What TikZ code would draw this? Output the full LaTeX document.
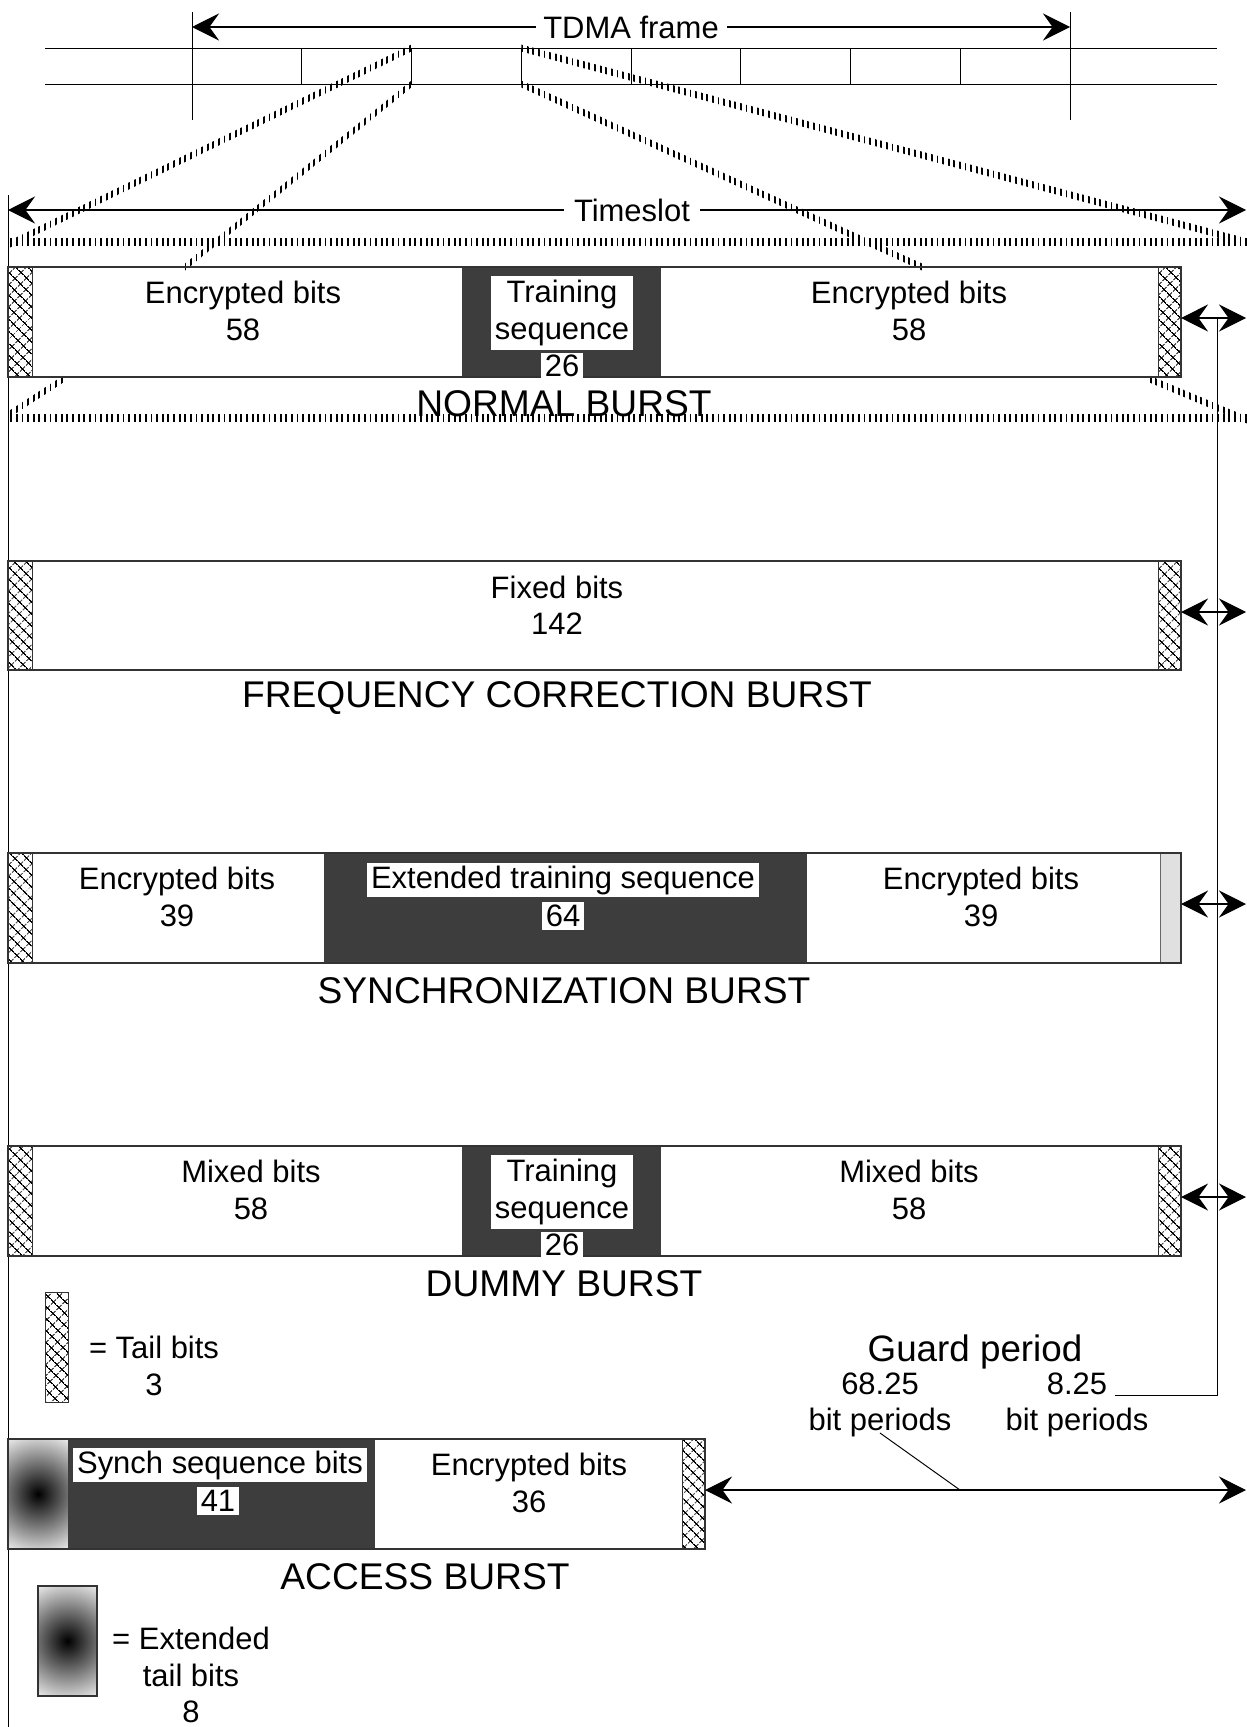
\documentclass[tikz,border=0pt]{standalone}
\usepackage{fontspec}
\setmainfont{Liberation Sans}
\usepackage{tikz}
\usetikzlibrary{calc}
\usetikzlibrary{arrows.meta}
\usetikzlibrary{positioning,patterns.meta}
\newcommand{\hatchband}[2]{\fill[HatchBand] ($(#1)+(0,-3.5)$) -- ($(#2)+(0,-3.5)$) -- ($(#2)+(0,3.5)$) -- ($(#1)+(0,3.5)$) -- cycle}
\colorlet{darkbits}{black!76}
\colorlet{boxline}{black!80}

\begin{document}
\begin{tikzpicture}[
x=0.018155cm, y=-0.018155cm,
Txt/.style={font=\fontsize{16}{18.8}\selectfont, inner sep=0pt, align=center},
Title/.style={font=\fontsize{19.2}{22}\selectfont, inner sep=0pt},
WhiteTxt/.style={Txt, fill=white, inner xsep=2pt, inner ysep=2.5pt},
BurstBox/.style={draw=boxline, line width=0.7pt},
TailBits/.style={draw=boxline, line width=0.5pt, pattern={Hatch[angle=45,distance=4pt,line width=0.55pt]}},
LightBits/.style={draw=black!60, line width=0.5pt, fill=black!12},
HatchBand/.style={pattern={Lines[angle=90,distance=2.9pt,line width=0.95pt]}},
Thin/.style={line width=0.5pt},
Dim/.style={line width=0.6pt, {Stealth[length=14pt,width=14pt,inset=5pt]}-{Stealth[length=14pt,width=14pt,inset=5pt]}}
]
\useasboundingbox (0,0) rectangle (1247,1727);

% the eight timeslots of the frame
\draw[Thin] (192,12) -- (192,120);
\draw[Thin] (1070,12) -- (1070,120);
\draw[Thin] (45,48) -- (1217,48);
\draw[Thin] (45,84) -- (1217,84);
\foreach \x in {301.75,411.5,521.25,631,740.75,850.5,960.25}
  \draw[Thin] (\x,48) -- (\x,84);
\coordinate (Fl) at (192,27);
\coordinate (Fr) at (1070,27);
\draw[Dim] (Fl) -- node[Txt, fill=white, inner xsep=4pt, inner ysep=2pt] (frame) {TDMA frame} (Fr);

% zoom from slot 3 down to the timeslot
\coordinate (S3tl) at (411.5,48);
\coordinate (S3bl) at (411.5,84);
\coordinate (S3tr) at (521.25,48);
\coordinate (S3br) at (521.25,84);
\hatchband{S3tl}{8,245};
\hatchband{S3bl}{185,267};
\hatchband{S3tr}{1247,242};
\hatchband{S3br}{922,267};
\hatchband{10,242}{1247,242};
\hatchband{10,418}{1247,418};
\hatchband{65,378}{8,415};
\hatchband{1147,378}{1247,420};

\coordinate (Tl) at (8,210);
\coordinate (Tr) at (1246,210);
\draw[Dim] (Tl) -- node[pos=0.504, Txt, fill=white, inner xsep=5pt, inner ysep=2pt] (slot) {Timeslot} (Tr);
\draw[Thin] (8,195) -- (8,1727);

% normal burst
\fill[darkbits] (462,267) rectangle (661,377);
\draw[TailBits] (8,267) rectangle (32,377);
\draw[TailBits] (1158,267) rectangle (1181,377);
\draw[BurstBox] (8,267) rectangle (1181,377);
\node[Txt] (nbEncA) at (243,311) {Encrypted bits\\58};
\node[WhiteTxt] (nbTrain) at (562,313) {Training\\sequence};
\node[WhiteTxt, inner ysep=1pt] (nbTrainN) at (562,366) {26};
\node[Txt] (nbEncB) at (909,311) {Encrypted bits\\58};
\node[Title] (nbTitle) at (564,404) {NORMAL BURST};

% frequency correction burst
\draw[TailBits] (8,561) rectangle (32,670);
\draw[TailBits] (1158,561) rectangle (1181,670);
\draw[BurstBox] (8,561) rectangle (1181,670);
\node[Txt] (fbFixed) at (557,605) {Fixed bits\\142};
\node[Title] (fbTitle) at (557,698) {FREQUENCY CORRECTION BURST};

% synchronization burst
\fill[darkbits] (324,853) rectangle (807,963);
\draw[TailBits] (8,853) rectangle (32,963);
\draw[LightBits] (1160,853) rectangle (1181,963);
\draw[BurstBox] (8,853) rectangle (1181,963);
\node[Txt] (sbEncA) at (177,897) {Encrypted bits\\39};
\node[WhiteTxt, inner ysep=1.5pt] (sbTrain) at (563,880) {Extended training sequence};
\node[WhiteTxt, inner ysep=1.5pt] (sbTrainN) at (563,916) {64};
\node[Txt] (sbEncB) at (981,897) {Encrypted bits\\39};
\node[Title] (sbTitle) at (564,991) {SYNCHRONIZATION BURST};

% dummy burst
\fill[darkbits] (462,1146) rectangle (661,1256);
\draw[TailBits] (8,1146) rectangle (32,1256);
\draw[TailBits] (1158,1146) rectangle (1181,1256);
\draw[BurstBox] (8,1146) rectangle (1181,1256);
\node[Txt] (dbMixA) at (251,1190) {Mixed bits\\58};
\node[WhiteTxt] (dbTrain) at (562,1192) {Training\\sequence};
\node[WhiteTxt, inner ysep=1pt] (dbTrainN) at (562,1245) {26};
\node[Txt] (dbMixB) at (909,1190) {Mixed bits\\58};
\node[Title] (dbTitle) at (564,1284) {DUMMY BURST};

% guard periods
\coordinate (nbR) at (1181,318);
\coordinate (nbG) at (1246,318);
\coordinate (fbR) at (1181,612);
\coordinate (fbG) at (1246,612);
\coordinate (sbR) at (1181,904);
\coordinate (sbG) at (1246,904);
\coordinate (dbR) at (1181,1197);
\coordinate (dbG) at (1246,1197);
\draw[Dim] (nbR) -- (nbG);
\draw[Dim] (fbR) -- (fbG);
\draw[Dim] (sbR) -- (sbG);
\draw[Dim] (dbR) -- (dbG);

\node[Txt, font=\fontsize{19}{22}\selectfont] (guard) at (975,1352) {Guard period};
\node[Txt] (gpLong) at (880,1405) {68.25\\bit periods};
\node[Txt] (gpShort) at (1077,1405) {8.25\\bit periods};
\coordinate (gTop) at (1217,318);
\coordinate (gBend) at (1217,1395);
\coordinate (gEnd) at (1115,1395);
\draw[Thin] (gTop) -- (gBend) -- (gEnd);

% legend: tail bits
\draw[TailBits] (45,1292) rectangle (68,1402);
\node[Txt] (tailKey) at (154,1366) {= Tail bits\\3};

% access burst
\begin{scope}
\clip (8,1439) rectangle (68,1549);
\shade[inner color=black, outer color=white] (38,1494) circle (1.2345cm);
\end{scope}
\fill[darkbits] (68,1439) rectangle (375,1549);
\draw[TailBits] (682,1439) rectangle (705,1549);
\draw[BurstBox] (8,1439) rectangle (705,1549);
\node[WhiteTxt, inner ysep=1.5pt] (abSynch) at (220,1465) {Synch sequence bits};
\node[WhiteTxt, inner ysep=1.5pt] (abSynchN) at (218,1501) {41};
\node[Txt] (abEnc) at (529,1483) {Encrypted bits\\36};
\node[Title] (abTitle) at (425,1577) {ACCESS BURST};
\coordinate (abR) at (705,1490);
\coordinate (abG) at (1246,1490);
\draw[Dim] (abR) -- (abG);
\coordinate (gpFoot) at (880,1433);
\coordinate (gpHit) at (960,1490);
\draw[Thin] (gpFoot) -- (gpHit);

% legend: extended tail bits
\begin{scope}
\clip (38,1586) rectangle (97,1696);
\shade[inner color=black, outer color=white] (67.5,1641) circle (1.2345cm);
\end{scope}
\draw[boxline, line width=0.6pt] (38,1586) rectangle (97,1696);
\node[Txt] (extKey) at (191,1675) {= Extended\\tail bits\\8};

\end{tikzpicture}
\end{document}
